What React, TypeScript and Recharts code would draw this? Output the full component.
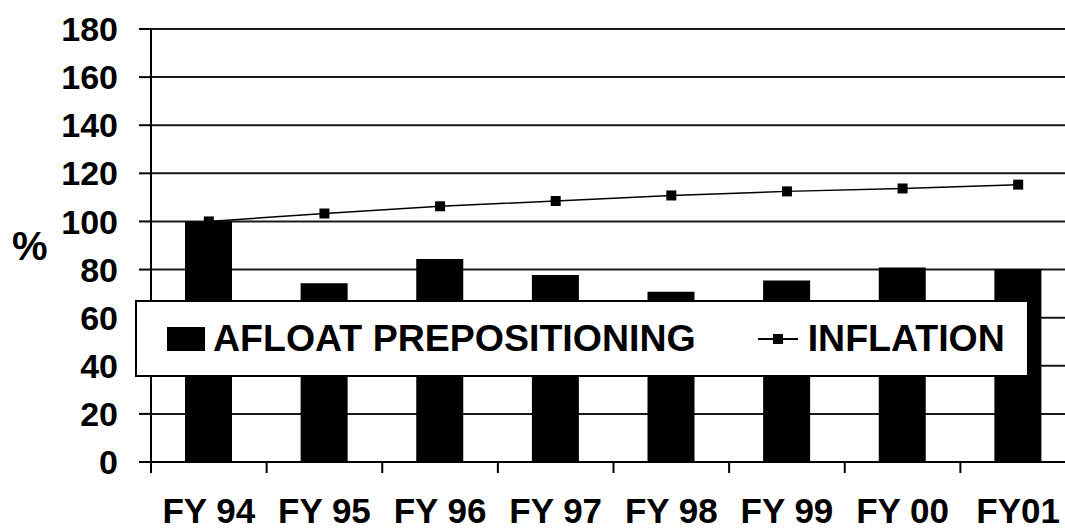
import {
  ComposedChart,
  Bar,
  Line,
  XAxis,
  YAxis,
  CartesianGrid,
  Legend,
} from 'recharts';

const FONT = '"Liberation Sans", Arial, Helvetica, sans-serif';

const years = ['FY 94', 'FY 95', 'FY 96', 'FY 97', 'FY 98', 'FY 99', 'FY 00', 'FY01'];
const afloat = [100, 74.3, 84.4, 77.7, 70.8, 75.4, 80.9, 80.2];
const inflation = [100, 103.3, 106.3, 108.5, 110.8, 112.5, 113.7, 115.3];
const yTicks = [0, 20, 40, 60, 80, 100, 120, 140, 160, 180];

const data = years.map((name, i) => ({
  name,
  afloat: afloat[i],
  inflation: inflation[i],
}));

function SquareDot(props: any) {
  const { cx, cy, index } = props;
  if (cx == null || cy == null) return <g key={`d-${index}`} />;
  return <rect key={`d-${index}`} x={cx - 5} y={cy - 5} width={10} height={10} fill="#000" />;
}

function YearTick(props: any) {
  const { x, y, payload } = props;
  const half = payload && payload.offset ? payload.offset : 57.8;
  return (
    <g>
      <line x1={x - half} y1={y} x2={x - half} y2={y + 11} stroke="#000" strokeWidth={2} />
      <text
        x={x}
        y={y + 61}
        textAnchor="middle"
        fontFamily={FONT}
        fontWeight="bold"
        fontSize={35}
        fill="#000"
      >
        {payload.value}
      </text>
    </g>
  );
}

function LegendBox() {
  return (
    <div
      style={{
        boxSizing: 'border-box',
        width: '100%',
        height: '100%',
        background: '#fff',
        border: '2px solid #000',
        borderRight: '3px solid #000',
        display: 'flex',
        alignItems: 'center',
        fontFamily: FONT,
        fontWeight: 'bold',
        fontSize: 37.5,
        color: '#000',
        paddingLeft: 30,
        whiteSpace: 'nowrap',
      }}
    >
      <span style={{ display: 'inline-block', width: 38, height: 24, background: '#000', marginRight: 8 }} />
      <span>AFLOAT PREPOSITIONING</span>
      <svg width={40} height={12} style={{ marginLeft: 62, marginRight: 10 }}>
        <line x1={0} y1={6} x2={40} y2={6} stroke="#000" strokeWidth={2} />
        <rect x={15} y={1} width={10} height={10} fill="#000" />
      </svg>
      <span>INFLATION</span>
    </div>
  );
}

export default function App() {
  return (
    <div
      style={{
        position: 'fixed',
        left: 0,
        top: 0,
        width: 1065,
        height: 529,
        overflow: 'hidden',
        background: '#fff',
      }}
    >
      <ComposedChart
        width={1076}
        height={529}
        data={data}
        margin={{ top: 29, right: 0, bottom: 0, left: 0 }}
      >
        <CartesianGrid horizontal vertical={false} stroke="#000" strokeWidth={2} strokeOpacity={0.9} />
        <XAxis
          dataKey="name"
          height={67}
          axisLine={{ stroke: '#000', strokeWidth: 2 }}
          tickLine={false}
          tickSize={0}
          tickMargin={0}
          interval={0}
          tick={<YearTick />}
        />
        <YAxis
          width={151}
          domain={[0, 180]}
          ticks={yTicks}
          interval={0}
          axisLine={{ stroke: '#000', strokeWidth: 2 }}
          tickLine={{ stroke: '#000', strokeWidth: 2 }}
          tickSize={12}
          tickMargin={21}
          tick={{ fontFamily: FONT, fontWeight: 'bold', fontSize: 34, fill: '#000' }}
          label={{
            value: '%',
            position: 'insideLeft',
            offset: 12,
            fontFamily: FONT,
            fontWeight: 'bold',
            fontSize: 40,
            fill: '#000',
          }}
        />
        <Legend
          layout="horizontal"
          verticalAlign="middle"
          align="center"
          wrapperStyle={{ left: 135, top: 300, width: 895, height: 77 }}
          content={() => <LegendBox />}
        />
        <Bar dataKey="afloat" fill="#000" barSize={47} isAnimationActive={false} />
        <Line
          type="linear"
          dataKey="inflation"
          stroke="#000"
          strokeWidth={1.5}
          dot={<SquareDot />}
          activeDot={false}
          isAnimationActive={false}
        />
      </ComposedChart>
    </div>
  );
}
